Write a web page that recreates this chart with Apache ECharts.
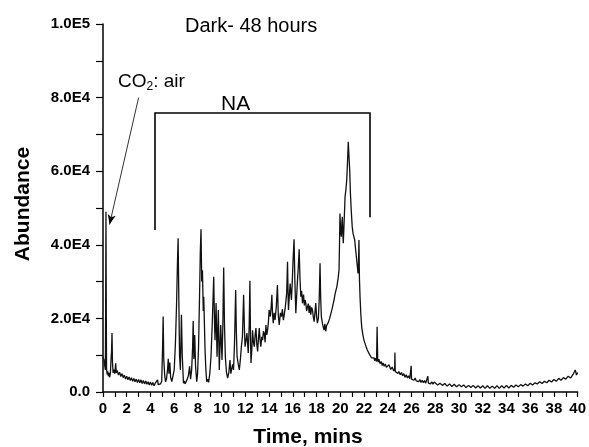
<!DOCTYPE html>
<html>
<head>
<meta charset="utf-8">
<script src="https://cdn.jsdelivr.net/npm/echarts@6/dist/echarts.min.js"></script>
<style>html,body{margin:0;padding:0;background:#fff}#c{width:589px;height:447px}</style>
</head>
<body>
<div id="c"></div>
<script>
// Chromatogram: [time (min), abundance]
const earlyTrace = [
[0.0,9500],[0.08,8800],[0.15,7000],[0.2,6000],[0.22,20000],[0.25,49000],[0.28,20000],[0.3,6200],[0.35,4800],[0.4,5600],
[0.45,4300],[0.5,5200],[0.55,4000],[0.62,5000],[0.68,9000],[0.72,11000],[0.76,16000],[0.8,8000],[0.85,5200],[0.92,6100],
[1.0,5000],[1.07,7800],[1.12,5200],[1.2,5900],[1.3,4600],[1.4,5400],[1.5,4200],[1.6,5000],[1.7,3900],[1.8,4600],
[1.9,3500],[2.0,4300],[2.1,3300],[2.2,4100],[2.3,3100],[2.4,3900],[2.5,2900],[2.6,3700],[2.7,2800],[2.8,3500],
[2.9,2600],[3.0,3400],[3.1,2500],[3.2,3300],[3.3,2300],[3.4,3100],[3.5,2200],[3.6,3000],[3.7,2100],[3.8,2800],
[3.9,1900],[4.0,2700],[4.1,1800],[4.2,2600],[4.3,1700],[4.4,2400],[4.5,2600]
];
const naTrace = [
[4.6,3300],[4.65,2000],[4.75,1700],[4.85,2200],[4.95,3000],[5.02,12000],[5.07,20500],[5.12,9000],[5.2,4500],[5.27,2800],
[5.35,3500],[5.45,6500],[5.5,9000],[5.56,5000],[5.63,8000],[5.7,4000],[5.8,2800],[5.9,3200],[6.0,6000],[6.1,13000],
[6.2,24000],[6.27,34500],[6.33,41800],[6.38,28000],[6.45,10000],[6.52,6000],[6.61,21000],[6.68,10000],[6.78,2400],[6.85,3000],
[6.92,2200],[7.0,2600],[7.1,3500],[7.2,4500],[7.3,7000],[7.38,3500],[7.47,6000],[7.55,12000],[7.6,19300],[7.66,9000],
[7.73,15500],[7.8,7000],[7.9,2800],[7.97,5000],[8.05,12000],[8.13,25000],[8.2,38000],[8.26,44200],[8.32,30000],[8.38,33100],
[8.45,22000],[8.49,25900],[8.55,18000],[8.6,11400],[8.67,6000],[8.74,2800],[8.82,3500],[8.9,2600],[9.0,5000],[9.1,9600],
[9.2,18000],[9.28,26000],[9.33,31300],[9.39,20000],[9.44,14100],[9.53,24200],[9.61,9600],[9.72,22300],[9.8,6000],[9.92,18200],
[10.03,8700],[10.1,18000],[10.17,33800],[10.24,18000],[10.31,9600],[10.4,5500],[10.5,3800],[10.6,5200],[10.7,8700],[10.77,5000],
[10.84,5200],[10.92,7500],[11.0,6000],[11.08,13000],[11.18,27700],[11.24,16000],[11.3,9600],[11.4,7500],[11.49,6000],[11.58,9000],
[11.66,12300],[11.75,15000],[11.85,26400],[11.92,17000],[11.97,12300],[12.05,14000],[12.13,16000],[12.24,10600],[12.32,18000],[12.38,30200],
[12.43,15000],[12.47,7900],[12.55,12000],[12.6,16800],[12.68,13500],[12.75,12300],[12.82,15500],[12.89,17400],[12.96,13000],[13.03,11000],
[13.1,14500],[13.17,17400],[13.24,14000],[13.3,12300],[13.38,15000],[13.45,14100],[13.52,16500],[13.59,15900],[13.66,13500],[13.73,18200],
[13.8,15500],[13.87,16800],[13.94,19000],[14.0,22300],[14.1,20500],[14.17,23000],[14.23,26400],[14.29,21000],[14.35,18700],[14.42,21500],
[14.5,19600],[14.6,23000],[14.65,26000],[14.7,29100],[14.77,21000],[14.85,18200],[14.95,21500],[15.04,20500],[15.12,22500],[15.2,19500],
[15.27,20900],[15.34,22500],[15.41,24500],[15.48,27000],[15.55,35400],[15.6,26000],[15.63,22300],[15.7,26000],[15.77,29500],[15.83,27000],
[15.88,25000],[15.95,30000],[16.02,36000],[16.1,41500],[16.17,30000],[16.25,21400],[16.32,26000],[16.39,30400],[16.46,34000],[16.53,38800],
[16.6,31000],[16.67,25900],[16.74,27500],[16.81,24100],[16.9,26500],[16.97,23500],[17.03,25000],[17.09,24200],[17.16,22000],[17.23,22300],
[17.3,24000],[17.37,21500],[17.44,23500],[17.51,21000],[17.58,23000],[17.65,22300],[17.72,20500],[17.79,19100],[17.86,21500],[17.93,24200],
[18.0,20500],[18.07,18700],[18.15,20000],[18.22,25000],[18.29,35000],[18.34,26000],[18.4,20500],[18.5,18500],[18.57,17500],[18.63,16800],
[18.7,18500],[18.77,16500],[18.84,18000],[18.91,17700],[19.0,19000],[19.1,20000],[19.19,20500],[19.3,22500],[19.4,24000],[19.47,25000],
[19.55,26500],[19.62,27500],[19.7,28500],[19.75,29500],[19.82,31000],[19.89,33100],[19.93,40000],[19.97,48500],[20.02,44000],[20.08,42200],
[20.13,46000],[20.17,47600],[20.21,43000],[20.25,40400],[20.33,47000],[20.4,53100],[20.47,55000],[20.54,57600],[20.6,62000],[20.67,68000],
[20.73,64000],[20.79,60300],[20.85,54000],[20.92,49400],[21.0,45000],[21.07,43100],[21.14,43000],[21.21,41300],[21.28,39000],[21.35,36800],
[21.42,34500],[21.49,32200],[21.53,35000],[21.57,41300],[21.61,31000],[21.66,25900],[21.73,21000],[21.8,17700],[21.9,15500],[21.99,14100]
];
const lateTrace = [
[22.05,14200],[22.12,12800],[22.2,13000],[22.27,11400],[22.35,11800],[22.45,10300],[22.55,10300],[22.62,9300],[22.7,9800],[22.78,8800],
[22.83,9300],[22.9,8500],[22.95,9200],[23.05,8300],[23.1,17700],[23.15,8700],[23.2,8100],[23.25,8900],[23.35,7700],[23.45,8300],
[23.53,7200],[23.6,7900],[23.7,7000],[23.8,7600],[23.88,6700],[23.95,7200],[24.1,7400],[24.25,6100],[24.37,6800],[24.5,5700],
[24.58,6300],[24.6,10700],[24.63,5600],[24.75,6100],[24.85,5000],[24.93,5600],[25.05,4700],[25.15,5300],[25.25,4400],[25.35,5000],
[25.45,4000],[25.55,4700],[25.65,3800],[25.75,4400],[25.85,3600],[25.95,4100],[25.97,7100],[26.0,3500],[26.1,4000],[26.2,3200],
[26.3,3800],[26.4,3000],[26.5,3500],[26.6,2800],[26.7,3400],[26.8,2600],[26.9,3200],[27.0,2500],[27.1,3100],[27.2,2400],
[27.3,2900],[27.37,4300],[27.42,2400],[27.5,2900],[27.6,2200],[27.7,2800],[27.8,2100],[27.9,2700],[28.0,2500],[28.2,1900],
[28.4,2400],[28.6,1800],[28.8,2300],[29.0,1600],[29.2,2200],[29.4,1500],[29.6,2100],[29.8,1400],[30.0,2000],[30.2,1400],
[30.4,1900],[30.6,1200],[30.8,1800],[31.0,1200],[31.2,1800],[31.4,1100],[31.6,1700],[31.8,1100],[32.0,1700],[32.2,1000],
[32.4,1700],[32.6,1000],[32.8,1600],[33.0,1000],[33.2,1700],[33.4,1000],[33.6,1700],[33.8,1100],[34.0,1800],[34.2,1100],
[34.4,1800],[34.6,1300],[34.8,1900],[35.0,1400],[35.2,2000],[35.4,1600],[35.6,2200],[35.8,1700],[36.0,2400],[36.2,1900],
[36.4,2500],[36.6,2200],[36.8,2800],[37.0,2300],[37.2,2900],[37.4,2500],[37.6,3200],[37.8,2700],[38.0,3400],[38.2,2900],
[38.4,3700],[38.6,3200],[38.8,3900],[39.0,3500],[39.2,4300],[39.4,3800],[39.6,4700],[39.8,6000],[39.9,4600],[40.0,5300]
];
// Annotation geometry in data units
const bracketTimes = [4.4, 22.45];
const bracketTop = 76000;
const bracketLegEnds = [44000, 47500];
const arrowFrom = [3.0, 80000];
const arrowTo = [0.55, 45500];
const xTicks = {min: 0, max: 40, step: 1};
const yTicks = {min: 0, max: 100000, step: 10000};

const FF = '"Liberation Sans", Arial, sans-serif';
function yFmt(v) {
  if (v % 20000 !== 0) return '';
  if (v === 0) return '0.0';
  const e = Math.floor(Math.log10(v));
  return (v / Math.pow(10, e)).toFixed(1) + 'E' + e;
}
const chart = echarts.init(document.getElementById('c'), null, {renderer: 'canvas'});
chart.setOption({
  animation: false,
  backgroundColor: '#fff',
  grid: {left: 103, top: 24, width: 476, height: 368, containLabel: false},
  xAxis: {
    type: 'value', min: xTicks.min, max: xTicks.max, interval: xTicks.step,
    axisLine: {show: true, onZero: false, lineStyle: {color: '#000', width: 1.5}},
    axisTick: {show: true, length: 5, lineStyle: {color: '#000', width: 1.2}},
    axisLabel: {formatter: v => (v % 2 === 0 ? String(v) : ''), color: '#000', fontFamily: FF, fontWeight: 'bold', fontSize: 15, margin: 9, showMinLabel: true, showMaxLabel: true},
    splitLine: {show: false}
  },
  yAxis: {
    type: 'value', min: yTicks.min, max: yTicks.max, interval: yTicks.step,
    axisLine: {show: true, lineStyle: {color: '#000', width: 1.5}},
    axisTick: {show: true, length: 7, lineStyle: {color: '#000', width: 1.2}},
    axisLabel: {formatter: yFmt, color: '#000', fontFamily: FF, fontWeight: 'bold', fontSize: 15, margin: 13},
    splitLine: {show: false}
  },
  series: [{
    type: 'line',
    data: earlyTrace.concat(naTrace, lateTrace),
    showSymbol: false,
    symbol: 'none',
    lineStyle: {color: '#111', width: 1.3},
    silent: true,
    markLine: {
      silent: true,
      symbol: 'none',
      label: {show: false},
      lineStyle: {type: 'solid', color: '#000', width: 1.6},
      data: [
        [{coord: [bracketTimes[0], bracketTop]}, {coord: [bracketTimes[1], bracketTop]}],
        [{coord: [bracketTimes[0], bracketTop]}, {coord: [bracketTimes[0], bracketLegEnds[0]]}],
        [{coord: [bracketTimes[1], bracketTop]}, {coord: [bracketTimes[1], bracketLegEnds[1]]}],
        [{coord: arrowFrom, symbol: 'none'}, {coord: arrowTo, symbol: 'arrow', symbolSize: [6, 10], lineStyle: {width: 0.8}}]
      ]
    }
  }],
  graphic: [
    {type: 'text', left: 185, top: 16, style: {text: 'Dark- 48 hours', font: '20px ' + FF, fill: '#000'}},
    {type: 'text', left: 118, top: 71, style: {text: '{a|CO}{s|2}{a|: air}', fill: '#000',
      rich: {a: {fontSize: 19, fontFamily: FF, fill: '#000', lineHeight: 22}, s: {fontSize: 12, fontFamily: FF, fill: '#000', padding: [10, 0, 0, 0], lineHeight: 22}}}},
    {type: 'text', left: 221, top: 94, style: {text: 'NA', font: '21px ' + FF, fill: '#000'}},
    {type: 'text', x: 23, y: 204, rotation: Math.PI / 2, style: {text: 'Abundance', font: 'bold 21px ' + FF, fill: '#000', align: 'center', verticalAlign: 'middle'}},
    {type: 'text', x: 308, y: 437, style: {text: 'Time, mins', font: 'bold 21px ' + FF, fill: '#000', align: 'center', verticalAlign: 'middle'}}
  ]
});
</script>
</body>
</html>
